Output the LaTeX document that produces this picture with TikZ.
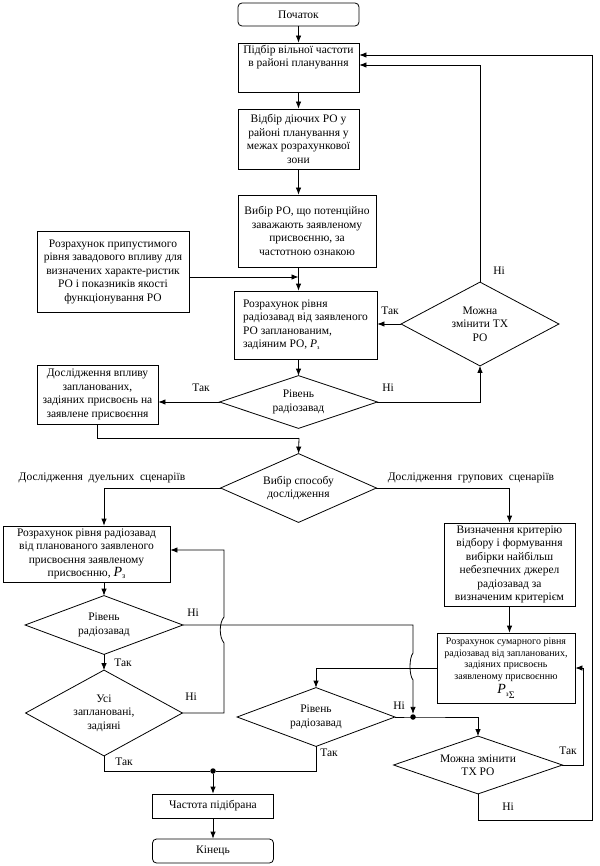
\documentclass[tikz,border=0pt]{standalone}
\usepackage{fontspec}
\setmainfont{Liberation Serif}
\usetikzlibrary{arrows.meta,calc}
\begin{document}
\begin{tikzpicture}[x=1pt,y=-1pt,line width=0.8pt,
  every node/.style={font=\fontsize{11.5}{13.5}\selectfont},
  box/.style={draw, inner sep=0pt, align=center},
  term/.style={box, rounded corners=4pt},
  dmd/.style={inner sep=0pt, align=center},
  lbl/.style={inner sep=0pt},
  arr/.style={-{Latex[length=7pt,width=5.5pt]}},
  jdot/.style={circle, fill, inner sep=0pt, minimum size=5.5pt}
]
\useasboundingbox (0,0) rectangle (599,866);
% ---------- nodes ----------
\node[term, minimum width=121pt, minimum height=23pt] (start) at (298.5,14.5) {Початок};
\node[box, minimum width=121pt, minimum height=49pt] (b1) at (298.5,67.5)
  {\parbox[c][47pt][t]{119pt}{\centering\vspace*{1pt}Підбір вільної частоти\\в районі планування}};
\node[box, minimum width=121pt, minimum height=60pt] (b2) at (298.5,139)
  {Відбір діючих РО у\\районі планування у\\межах розрахункової\\зони};
\node[box, minimum width=138pt, minimum height=72pt] (b3) at (307,231)
  {Вибір РО, що потенційно\\заважають заявленому\\присвоєнню, за\\частотною ознакою};
\node[box, minimum width=152pt, minimum height=81pt] (L1) at (113,271.5)
  {Розрахунок припустимого\\рівня завадового впливу для\\визначених характе-ристик\\РО і показників якості\\функціонування РО};
\node[box, align=left, minimum width=143pt, minimum height=68pt] (b4) at (305.5,325)
  {Розрахунок рівня\\радіозавад від заявленого\\РО запланованим,\\задіяним РО, {\itshape P}\raisebox{-1.5pt}{\fontsize{6}{6}\selectfont з}};
\node[dmd, minimum width=157pt, minimum height=83pt] (D1) at (480,324) {Можна\\змінити ТХ\\РО};
\node[dmd, minimum width=157pt, minimum height=52pt] (D2) at (298.5,402) {Рівень\\радіозавад};
\node[box, minimum width=121pt, minimum height=59pt] (L2) at (97.5,394.5)
  {Дослідження впливу\\запланованих,\\задіяних присвоєнь на\\заявлене присвоєння};
\node[dmd, minimum width=155pt, minimum height=68pt] (D3) at (298.5,488) {Вибір способу\\дослідження};
\node[box, minimum width=167pt, minimum height=56pt] (L3) at (86.5,554)
  {Розрахунок рівня радіозавад\\від планованого заявленого\\присвоєння заявленому\\присвоєнню, {\fontsize{14}{14}\selectfont\itshape P}\raisebox{-2pt}{\fontsize{8}{8}\selectfont з}};
\node[box, minimum width=131pt, minimum height=83pt] (R1) at (509.5,564.5)
  {Визначення критерію\\відбору і формування\\вибірки найбільш\\небезпечних джерел\\радіозавад за\\визначеним критерієм};
\node[dmd, minimum width=157pt, minimum height=58pt] (D4) at (104,625) {Рівень\\радіозавад};
\node[dmd, minimum width=156pt, minimum height=85pt] (D5) at (104,713) {Усі\\заплановані,\\задіяні};
\node[box, minimum width=138pt, minimum height=70pt, font=\fontsize{10}{11.8}\selectfont] (R2) at (506,668)
  {Розрахунок сумарного рівня\\радіозавад від запланованих,\\задіяних присвоєнь\\заявленому присвоєнню\\[2pt]{\fontsize{14}{14}\selectfont\itshape P}\raisebox{-3pt}{\fontsize{7}{7}\selectfont з}\raisebox{-5pt}{\fontsize{10}{10}\selectfont Σ}};
\node[dmd, minimum width=157pt, minimum height=58pt] (D6) at (316,717) {Рівень\\радіозавад};
\node[dmd, minimum width=168pt, minimum height=57pt] (D7) at (478,765) {Можна змінити\\ТХ РО};
\node[box, minimum width=121pt, minimum height=24pt] (ch) at (213,806) {Частота підібрана};
\node[term, minimum width=121pt, minimum height=24pt] (end) at (213,851) {Кінець};
% diamond outlines
\foreach \d in {D1,D2,D3,D4,D5,D6,D7}
  \draw (\d.west) -- (\d.north) -- (\d.east) -- (\d.south) -- cycle;
% junction dots
\node[jdot] (j1) at (213,771) {};
\node[jdot] (j2) at (413,717) {};
\coordinate (m1) at (299,438);
% ---------- connectors ----------
\draw[arr] (start) -- (b1);
\draw[arr] (b1) -- (b2);
\draw[arr] (b2.south) -- (b2.south |- b3.north);
\draw[arr] (b2.south |- b3.south) -- (b2.south |- b4.north);
\draw[arr] ([yshift=-5.5pt]L1.east) -- ([yshift=-5.5pt]L1.east -| b2.south);
\draw[arr] (b2.south |- b4.south) -- (D2.north);
\draw[arr] (D2.west) -- (D2.west -| L2.east);
\draw[arr] (D2.east) -| (D1.south);
\draw[arr] (D1.west) -- (D1.west -| b4.east);
\draw[arr] (D1.north) |- ([yshift=2.5pt]b1.east);
\draw (L2.south) |- (m1);
\draw[arr] (m1) -- (D3.north);
\draw[arr] (D3.west) -| (D4.north |- L3.north);
\draw[arr] (D3.east) -| (R1.north);
\draw[arr] (D4.north |- L3.south) -- (D4.north);
\draw[arr] (D4.south) -- (D5.north);
\draw[arr] (D4.east) -| (413,653) .. controls +(-4,5) and +(-4,-5) .. (413,680) -- (j2.north);
\draw[arr] (D5.east) -| (224,643) .. controls +(-5,-6) and +(-5,6) .. (224,617) |- ([yshift=4pt]L3.east);
\draw (D5.south) |- (j1) -| (D6.south);
\draw[arr] (j1) -- (ch.north);
\draw[arr] (ch) -- (end);
\draw[arr] (R1.south) -- (R1.south |- R2.north);
\draw[arr] (R2.west) -| (D6.north);
\draw[arr] (D6.east) -- (j2.center) -| (D7.north);
\draw[arr] (D7.east) -| ($(R2.east)+(8,0)$) -- (R2.east);
\draw[arr] (D7.south) |- (592,820) |- ([yshift=12.5pt]b1.east);
% ---------- labels ----------
\node[lbl] (t1) at (499,271) {Ні};
\node[lbl] (t2) at (390,311) {Так};
\node[lbl] (t3) at (201,388) {Так};
\node[lbl] (t4) at (388,388) {Ні};
\node[lbl] (t5) at (102,478) {Дослідження\ \ дуельних\ \ сценаріїв};
\node[lbl] (t6) at (471,478) {Дослідження\ \ групових\ \ сценаріїв};
\node[lbl] (t7) at (193,613) {Ні};
\node[lbl] (t8) at (123,663) {Так};
\node[lbl] (t9) at (191,697) {Ні};
\node[lbl] (t10) at (124,762) {Так};
\node[lbl] (t11) at (329,753) {Так};
\node[lbl] (t12) at (399,706) {Ні};
\node[lbl] (t13) at (568,751) {Так};
\node[lbl] (t14) at (508,807) {Ні};
\end{tikzpicture}
\end{document}
